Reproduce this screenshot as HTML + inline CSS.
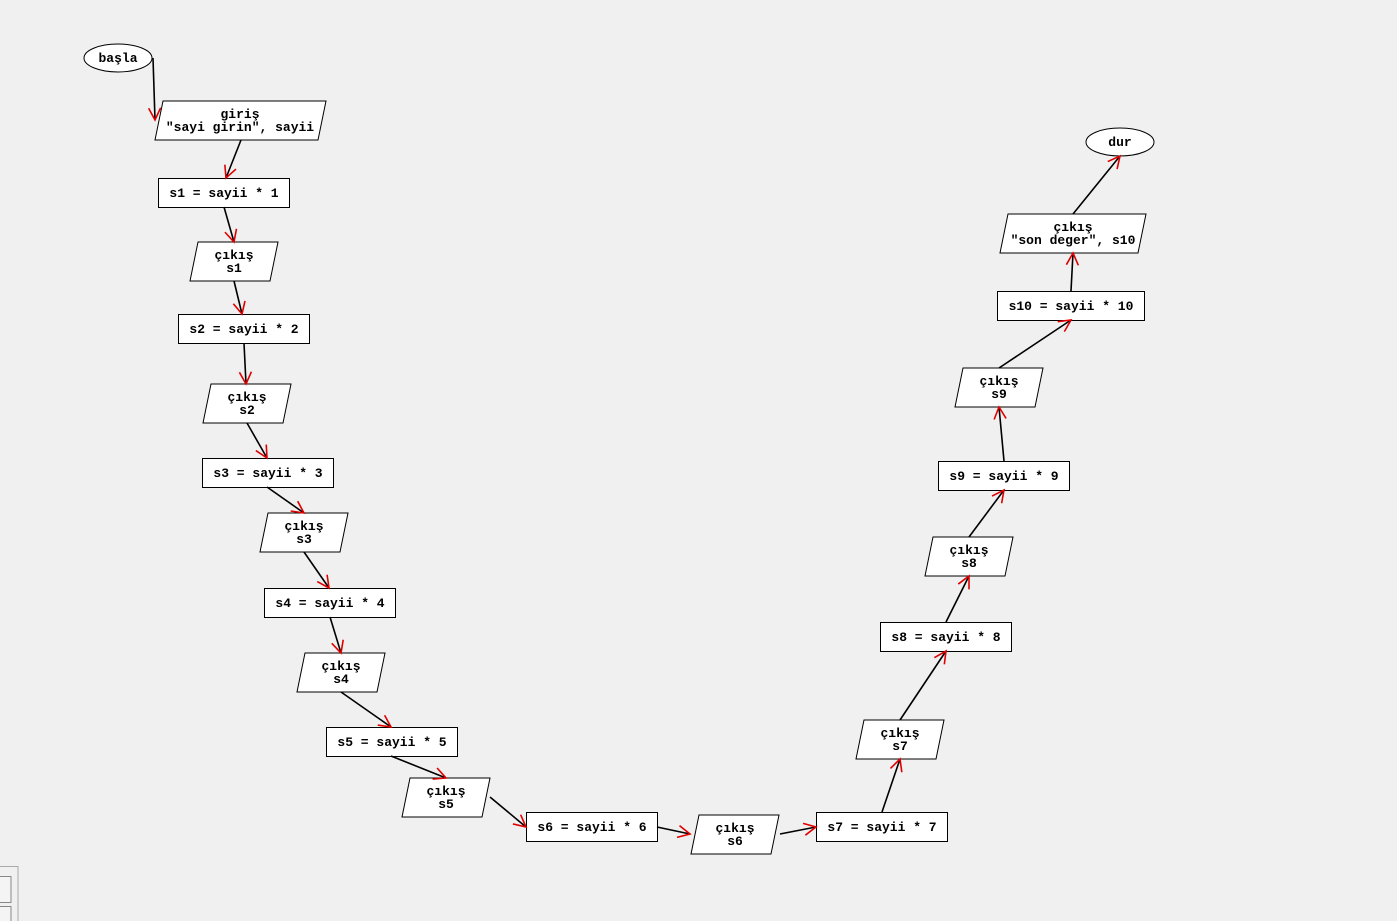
<!DOCTYPE html>
<html><head><meta charset="utf-8"><style>
html,body{margin:0;padding:0;background:#f0f0f0;}
svg{display:block;}
text{font-family:"Liberation Mono",monospace;font-size:13px;font-weight:bold;text-anchor:middle;fill:#000;}
</style></head><body>
<svg width="1397" height="921" xmlns="http://www.w3.org/2000/svg">
<defs>
<marker id="a" markerWidth="16" markerHeight="16" refX="14" refY="8" orient="auto" markerUnits="userSpaceOnUse">
<path d="M2,2 L14,8 L2,14" fill="none" stroke="#e00000" stroke-width="1.6"/>
</marker>
</defs>
<rect width="1397" height="921" fill="#f0f0f0"/>
<g fill="#fff" stroke="#000" stroke-width="1">
<ellipse cx="118" cy="58" rx="34" ry="14"/>
<ellipse cx="1120" cy="142" rx="34" ry="14"/>
<polygon points="163,101 326,101 318,140 155,140"/>
<rect x="158.5" y="178.5" width="131" height="29"/>
<polygon points="198,242 278,242 270,281 190,281"/>
<rect x="178.5" y="314.5" width="131" height="29"/>
<polygon points="211,384 291,384 283,423 203,423"/>
<rect x="202.5" y="458.5" width="131" height="29"/>
<polygon points="268,513 348,513 340,552 260,552"/>
<rect x="264.5" y="588.5" width="131" height="29"/>
<polygon points="305,653 385,653 377,692 297,692"/>
<rect x="326.5" y="727.5" width="131" height="29"/>
<polygon points="410,778 490,778 482,817 402,817"/>
<rect x="526.5" y="812.5" width="131" height="29"/>
<polygon points="699,815 779,815 771,854 691,854"/>
<rect x="816.5" y="812.5" width="131" height="29"/>
<polygon points="864,720 944,720 936,759 856,759"/>
<rect x="880.5" y="622.5" width="131" height="29"/>
<polygon points="933,537 1013,537 1005,576 925,576"/>
<rect x="938.5" y="461.5" width="131" height="29"/>
<polygon points="963,368 1043,368 1035,407 955,407"/>
<rect x="997.5" y="291.5" width="147" height="29"/>
<polygon points="1008,214 1146,214 1138,253 1000,253"/>
</g>
<g stroke="#000" stroke-width="1.6" marker-end="url(#a)">
<line x1="153" y1="58" x2="155" y2="120"/>
<line x1="241" y1="140" x2="226" y2="178"/>
<line x1="224" y1="207" x2="234" y2="242"/>
<line x1="234" y1="281" x2="242" y2="314"/>
<line x1="244" y1="343" x2="246" y2="384"/>
<line x1="247" y1="423" x2="267" y2="458"/>
<line x1="267" y1="487" x2="304" y2="513"/>
<line x1="304" y1="552" x2="329" y2="588"/>
<line x1="330" y1="617" x2="341" y2="653"/>
<line x1="341" y1="692" x2="391" y2="727"/>
<line x1="391" y1="756" x2="446" y2="778"/>
<line x1="490" y1="797" x2="526" y2="827"/>
<line x1="657" y1="827" x2="690" y2="834"/>
<line x1="780" y1="834" x2="816" y2="827"/>
<line x1="882" y1="812" x2="900" y2="759"/>
<line x1="900" y1="720" x2="946" y2="651"/>
<line x1="946" y1="622" x2="969" y2="576"/>
<line x1="969" y1="537" x2="1004" y2="490"/>
<line x1="1004" y1="461" x2="999" y2="407"/>
<line x1="999" y1="368" x2="1071" y2="320"/>
<line x1="1071" y1="291" x2="1073" y2="253"/>
<line x1="1073" y1="214" x2="1120" y2="156"/>
</g>
<text x="118" y="62">başla</text>
<text x="1120" y="146">dur</text>
<text x="240" y="118">giriş</text><text x="240" y="131">"sayi girin", sayii</text>
<text x="224" y="197">s1 = sayii * 1</text>
<text x="234" y="259">çıkış</text><text x="234" y="272">s1</text>
<text x="244" y="333">s2 = sayii * 2</text>
<text x="247" y="401">çıkış</text><text x="247" y="414">s2</text>
<text x="268" y="477">s3 = sayii * 3</text>
<text x="304" y="530">çıkış</text><text x="304" y="543">s3</text>
<text x="330" y="607">s4 = sayii * 4</text>
<text x="341" y="670">çıkış</text><text x="341" y="683">s4</text>
<text x="392" y="746">s5 = sayii * 5</text>
<text x="446" y="795">çıkış</text><text x="446" y="808">s5</text>
<text x="592" y="831">s6 = sayii * 6</text>
<text x="735" y="832">çıkış</text><text x="735" y="845">s6</text>
<text x="882" y="831">s7 = sayii * 7</text>
<text x="900" y="737">çıkış</text><text x="900" y="750">s7</text>
<text x="946" y="641">s8 = sayii * 8</text>
<text x="969" y="554">çıkış</text><text x="969" y="567">s8</text>
<text x="1004" y="480">s9 = sayii * 9</text>
<text x="999" y="385">çıkış</text><text x="999" y="398">s9</text>
<text x="1071" y="310">s10 = sayii * 10</text>
<text x="1073" y="231">çıkış</text><text x="1073" y="244">"son deger", s10</text>
<rect x="-1" y="866.5" width="19" height="60" fill="#f0f0f0" stroke="#aaa"/>
<rect x="-1" y="876.5" width="12" height="26" fill="#f4f4f4" stroke="#888"/>
<rect x="-1" y="906.5" width="12" height="20" fill="#f4f4f4" stroke="#888"/>
</svg>
</body></html>
